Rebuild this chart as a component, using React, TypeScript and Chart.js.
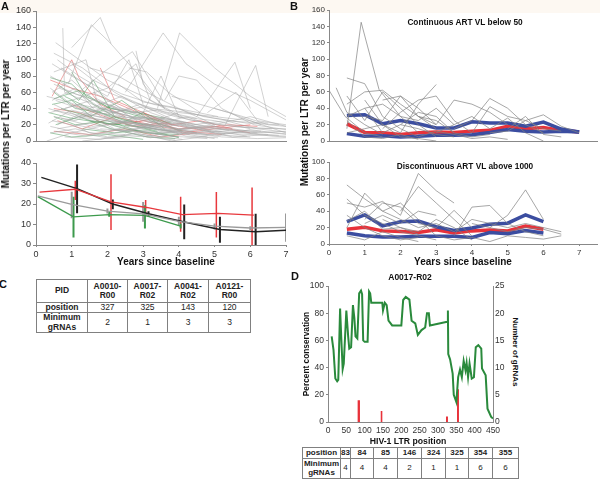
import React, { useEffect, useRef } from "react";
import { Chart, registerables } from "chart.js";

Chart.register(...registerables);

const FONT = "'Liberation Sans', Arial, Helvetica, sans-serif";
type Pt = [number, number];

// ---------------- Panel A (top): individual trajectories ----------------
const aTopGrey: Pt[][] = [
  [[0.55, 121], [1.15, 102], [2.0, 75], [3.0, 55], [4.1, 30]],
  [[0.75, 139], [0.8, 60], [1.6, 45], [2.5, 30]],
  [[0.9, 70], [1.55, 143], [2.05, 122], [2.9, 80], [3.6, 40]],
  [[1.0, 115], [1.8, 152], [2.1, 120]],
  [[0.5, 108], [1.3, 90], [2.2, 60], [3.2, 35], [4.2, 20]],
  [[0.4, 80], [1.2, 60], [1.9, 85], [2.7, 110], [3.55, 50]],
  [[2.8, 111], [3.0, 70], [3.6, 40]],
  [[2.5, 60], [3.56, 133], [4.2, 95], [5.0, 70], [6.0, 50], [7.0, 26]],
  [[3.4, 40], [4.02, 133], [5.0, 90], [6.0, 55], [7.0, 30]],
  [[4.5, 30], [5.57, 97], [6.0, 40]],
  [[5.3, 20], [6.15, 93], [6.5, 30]],
  [[3.6, 50], [4.0, 80], [4.5, 75], [5.2, 40], [6.1, 20], [7.0, 14]],
  [[0.45, 60], [1.0, 75], [1.9, 40], [3.0, 25], [4.0, 15], [5.0, 10]],
  [[0.35, 40], [1.1, 30], [2.0, 25], [3.1, 20], [4.0, 12]],
  [[0.5, 30], [1.1, 25], [2.1, 45], [3.0, 20], [4.1, 10], [5.0, 8], [6.0, 5]],
  [[0.6, 20], [1.3, 35], [2.2, 15], [3.2, 10], [4.0, 5]],
  [[0.4, 10], [1.1, 15], [2.0, 5], [3.0, 8], [4.1, 2]],
  [[0.3, 0], [1.0, 10], [2.0, 20], [3.0, 30], [4.0, 25], [5.0, 15], [6.0, 10], [7.0, 12]],
  [[1.0, 50], [2.0, 65], [2.8, 95], [3.2, 50], [4.0, 30]],
  [[1.5, 90], [2.3, 80], [3.1, 60], [4.0, 40], [5.0, 20]],
  [[2.0, 40], [3.0, 35], [3.5, 80], [4.0, 30], [5.0, 25], [6.0, 15]],
  [[0.7, 90], [1.4, 70], [2.0, 55], [2.6, 100], [3.0, 45]],
  [[3.0, 20], [4.0, 35], [5.0, 30], [6.0, 25], [7.0, 10]],
  [[4.0, 15], [5.0, 20], [6.0, 30], [7.0, 18]],
  [[2.5, 10], [3.5, 25], [4.5, 15], [5.5, 5], [6.5, 8]],
  [[0.8, 5], [1.8, 2], [2.8, 10], [3.8, 0], [4.8, 6]],
  [[1.2, 45], [2.0, 30], [3.0, 15], [4.0, 20], [5.0, 10], [6.0, 8], [7.0, 6]],
  [[0.55, 50], [1.2, 40], [2.2, 35], [3.2, 25], [4.2, 10], [5.2, 12]],
  [[1.9, 30], [2.9, 45], [3.9, 25], [4.9, 12]],
  [[2.2, 25], [3.2, 18], [4.2, 30], [5.2, 15], [6.2, 10]],
  [[4.8, 35], [5.6, 60], [6.2, 25], [7.0, 20]],
  [[0.45, 25], [1.0, 20], [1.5, 10], [2.5, 8]],
  [[1.8, 15], [2.8, 12], [3.8, 6], [4.8, 3]],
  [[3.2, 10], [4.2, 12], [5.2, 5], [6.2, 3], [7.0, 4]],
  [[0.5, 85], [1.4, 100], [1.7, 50], [2.5, 35]],
  [[1.3, 0], [2.3, 5], [3.3, 15], [4.3, 8]],
  [[2.6, 90], [3.1, 85], [3.7, 60], [4.6, 35]],
  [[5.0, 40], [5.8, 30], [6.5, 20], [7.0, 18]],
  [[3.8, 55], [4.6, 45], [5.4, 35], [6.3, 20]],
  [[0.65, 65], [1.3, 55], [2.2, 30], [3.0, 28], [4.0, 18]],
  [[0.4, 35], [1.2, 45], [2.0, 38], [2.8, 22], [3.6, 18], [4.5, 10]],
  [[0.6, 15], [1.5, 22], [2.4, 12], [3.3, 18], [4.2, 6], [5.1, 4]],
  [[1.1, 20], [2.0, 12], [3.0, 22], [4.0, 14], [5.0, 18], [6.0, 12], [7.0, 9]],
  [[0.5, 45], [1.3, 28], [2.1, 20], [3.0, 12], [3.9, 10]],
  [[2.0, 8], [3.0, 18], [4.0, 10], [5.0, 6], [6.0, 14], [7.0, 8]],
  [[0.7, 28], [1.6, 18], [2.6, 24], [3.5, 12], [4.4, 16], [5.3, 9]],
  [[1.6, 60], [2.4, 40], [3.3, 30], [4.3, 22], [5.3, 14], [6.3, 12]],
  [[0.45, 95], [1.0, 80], [1.6, 65], [2.3, 42], [3.0, 30]],
  [[3.5, 30], [4.4, 20], [5.3, 25], [6.2, 15], [7.0, 11]],
  [[0.3, 55], [0.9, 48], [1.7, 35], [2.7, 28], [3.7, 20]],
  [[0.5, 70], [1.1, 58], [1.8, 48], [2.6, 36], [3.4, 24], [4.3, 16]],
  [[0.35, 22], [1.0, 38], [1.9, 28], [2.9, 16], [3.9, 22], [4.9, 14], [5.9, 6]],
  [[0.8, 40], [1.7, 52], [2.5, 34], [3.4, 38], [4.3, 26], [5.2, 20], [6.1, 16], [7.0, 15]],
  [[1.2, 30], [2.1, 35], [3.0, 42], [3.9, 30], [4.8, 22], [5.7, 17], [6.6, 15]],
  [[0.55, 12], [1.4, 6], [2.3, 14], [3.2, 4], [4.1, 9], [5.0, 3]],
  [[0.4, 65], [1.0, 45], [1.5, 32], [2.3, 26], [3.2, 16], [4.1, 8]],
  [[1.5, 40], [2.4, 55], [3.2, 40], [4.1, 36], [5.0, 28], [5.9, 22], [6.8, 20]],
  [[0.6, 100], [1.2, 80], [1.9, 62], [2.7, 48], [3.6, 36], [4.5, 28]],
  [[2.3, 70], [3.0, 48], [3.8, 42], [4.7, 30], [5.6, 24], [6.5, 22]],
  [[0.5, 38], [1.4, 30], [2.3, 22], [3.2, 30], [4.1, 20], [5.0, 12], [5.9, 10], [6.8, 7]],
  [[0.9, 25], [1.8, 40], [2.7, 30], [3.6, 26], [4.5, 18], [5.4, 13]],
  [[0.45, 50], [1.1, 65], [1.8, 30], [2.6, 20], [3.5, 14], [4.4, 12]],
  [[3.0, 5], [3.9, 12], [4.8, 8], [5.7, 11], [6.6, 6], [7.0, 5]],
  [[1.0, 95], [1.6, 75], [2.4, 58], [3.3, 45], [4.2, 38], [5.1, 30]],
  [[0.4, 18], [1.2, 10], [2.1, 3], [3.0, 6], [3.9, 1]],
];
const aTopGreen: Pt[][] = [
  [[0.4, 78], [1.0, 70], [1.6, 45], [2.2, 30], [3.0, 20]],
  [[0.5, 60], [1.1, 40], [1.8, 35], [2.6, 20], [3.4, 12]],
  [[0.45, 45], [1.0, 50], [1.7, 25], [2.5, 15], [3.5, 8], [4.0, 5]],
  [[0.6, 70], [1.2, 50], [1.6, 75], [2.2, 30]],
  [[0.5, 30], [1.1, 20], [2.0, 25], [3.0, 10], [4.0, 8]],
  [[0.55, 20], [1.2, 30], [2.1, 15], [3.1, 5], [3.9, 3]],
  [[1.0, 85], [1.4, 55], [2.1, 40], [2.8, 35], [3.6, 28]],
  [[0.4, 10], [1.0, 5], [2.0, 8], [3.0, 2]],
  [[1.5, 25], [2.3, 20], [3.0, 35], [3.6, 15]],
  [[0.7, 40], [1.5, 30], [2.4, 50], [3.2, 25], [4.1, 12]],
  [[0.35, 35], [1.0, 28], [1.9, 22], [2.8, 18], [3.8, 12]],
  [[0.8, 55], [1.6, 38], [2.5, 25], [3.3, 18]],
  [[0.5, 52], [1.2, 62], [2.0, 42], [2.9, 30], [3.8, 22]],
  [[1.3, 15], [2.2, 10], [3.1, 14], [4.0, 4]],
];
const aTopRed: Pt[][] = [
  [[0.45, 55], [1.0, 100], [1.2, 78], [1.8, 45], [2.5, 30]],
  [[0.4, 75], [1.0, 65], [1.8, 55], [2.6, 40], [3.4, 25]],
  [[0.5, 40], [1.2, 35], [2.0, 20], [3.0, 25], [4.0, 15], [5.0, 18], [6.0, 10]],
  [[0.6, 25], [1.3, 15], [2.2, 30], [3.2, 20], [4.2, 12], [5.2, 8]],
  [[1.8, 90], [2.2, 50], [3.0, 35], [3.8, 20]],
  [[2.5, 20], [3.3, 28], [4.1, 10], [5.0, 15], [6.0, 20]],
  [[0.5, 12], [1.5, 8], [2.5, 15], [3.5, 5], [4.5, 10]],
  [[3.0, 35], [3.8, 20], [4.6, 25], [5.5, 15]],
  [[1.0, 45], [1.8, 32], [2.7, 18], [3.6, 22], [4.5, 14], [5.4, 20], [6.2, 18]],
];

// ---------------- Panel A (bottom): group means with error bars ----------------
const aBlackX = [0.15, 1.15, 2.15, 3.15, 4.15, 5.15, 6.15, 7.0];
const aBlackY = [33, 27.5, 20, 15.2, 11.2, 7.6, 6.5, 7.2];
const aBlackErrX = [1.15, 2.15, 3.15, 4.15, 5.15, 6.15];
const aBlackErrLo = [15.5, 17.5, 13.8, 2.8, 1.1, 0];
const aBlackErrHi = [39.3, 22.2, 16.5, 19.8, 13.8, 15.3];

const aRedX = [0.1, 1.1, 2.1, 3.1, 4.1, 5.1, 6.1];
const aRedY = [25.8, 27.2, 21, 18.3, 14.8, 15.4, 14.6];
const aRedErrX = [1.1, 2.1, 3.07, 4.05, 5.05, 6.05];
const aRedErrLo = [21.9, 7.3, 13.8, 6.5, 3.7, 0];
const aRedErrHi = [31.3, 34.5, 21.9, 23.5, 25.9, 28];

const aGreyX = [0.05, 1.0, 2.0, 3.0, 4.0, 5.0, 6.0, 7.0];
const aGreyY = [24, 19.8, 16.5, 15.2, 11.5, 9.2, 8.3, 8.6];
const aGreyErrX = [1.0, 2.0, 3.0, 4.0, 5.0, 6.0, 7.0];
const aGreyErrLo = [13, 15.4, 11.3, 9.7, 7.6, 7.3, 1.6];
const aGreyErrHi = [26, 17.8, 21, 13.8, 10.5, 9.2, 15.4];

const aGreenX = [0.05, 1.05, 2.05, 3.05, 4.05];
const aGreenY = [23.6, 13.7, 14.8, 14.5, 9.2];
const aGreenErrX = [1.05, 2.05, 3.05, 4.05];
const aGreenErrLo = [3.7, 13.8, 8.1, 8.1];
const aGreenErrHi = [23.5, 16.2, 19.4, 10.5];

// ---------------- Panel B ----------------
const bTopYears = [0.5, 1, 1.5, 2, 2.5, 3, 3.5, 4, 4.5, 5, 5.5, 6, 6.5, 7];
const bTopUpper = [31, 32, 21, 25, 21, 16, 16, 23.5, 22, 22, 18, 23, 14.6, 11];
const bTopMean = [21, 10.5, 10, 8, 10, 11, 10.5, 12, 13, 18, 15, 16.5, 13, 11];
const bTopLower = [9, 5.7, 6.5, 5, 5.7, 7, 7, 7.7, 10.5, 14, 12, 11, 12, 11];
const bTopGrey: Pt[][] = [
  [[0.5, 15], [0.9, 145], [1.4, 63], [2.0, 30], [2.5, 10]],
  [[0, 62], [0.45, 30], [1.0, 10], [1.5, 5]],
  [[0.2, 65], [0.5, 35], [1.0, 20], [1.5, 8]],
  [[0.5, 77], [1.0, 70], [1.5, 30], [2.0, 15], [2.5, 5]],
  [[0.5, 45], [1.0, 60], [1.5, 62], [2.0, 45], [2.5, 30], [3.0, 15]],
  [[0.5, 55], [1.0, 25], [1.5, 60], [2.0, 40], [2.5, 20], [3.0, 5]],
  [[1.0, 50], [1.5, 20], [2.0, 10], [2.5, 45], [3.0, 69]],
  [[1.5, 15], [2.0, 35], [2.5, 50], [3.0, 55], [3.5, 25], [4.0, 10]],
  [[2.5, 30], [3.0, 20], [3.5, 50], [4.0, 45], [4.5, 35], [5.0, 20]],
  [[3.5, 15], [4.0, 25], [4.5, 52], [5.0, 40], [5.5, 20], [6.0, 10]],
  [[4.0, 10], [4.5, 42], [5.0, 30], [5.5, 25], [6.0, 32], [6.5, 18], [7.0, 10]],
  [[0.5, 25], [1.0, 5], [1.5, 3], [2.0, 8], [2.5, 2]],
  [[0.5, 10], [1.0, 15], [1.5, 20], [2.0, 5], [2.5, 3], [3.0, 0]],
  [[1.0, 40], [1.5, 45], [2.0, 30], [2.5, 25], [3.0, 40], [3.5, 20]],
  [[2.0, 20], [2.5, 35], [3.0, 30], [3.5, 10], [4.0, 5], [4.5, 8]],
  [[3.0, 10], [3.5, 20], [4.0, 30], [4.5, 15], [5.0, 28], [5.5, 10], [6.0, 0]],
  [[4.5, 10], [5.0, 12], [5.5, 25], [6.0, 15], [6.5, 12]],
  [[1.5, 50], [2.0, 55], [2.5, 30], [3.0, 25], [3.5, 10]],
  [[0.5, 30], [1.0, 40], [1.5, 10], [2.0, 20], [2.5, 15], [3.0, 8], [3.5, 5]],
  [[2.5, 5], [3.0, 12], [3.5, 8], [4.0, 3], [4.5, 5], [5.0, 2]],
  [[5.0, 15], [5.5, 30], [6.0, 8], [6.5, 5]],
  [[1.0, 30], [1.5, 25], [2.0, 55], [2.5, 40], [3.0, 20]],
];
const bBotYears = [0.5, 1, 1.5, 2, 2.5, 3, 3.5, 4, 4.5, 5, 5.5, 6];
const bBotUpper = [27.4, 35.5, 22, 27, 28, 21, 16.5, 19.5, 24, 25.4, 35.5, 27.4];
const bBotMean = [18, 20.5, 16, 15.3, 14, 17.3, 13.3, 16, 17, 16, 22, 18];
const bBotLower = [13.3, 10, 8.5, 8.5, 9.3, 9.3, 9.3, 8, 14, 12.5, 16.5, 13.3];
const bBotGrey: Pt[][] = [
  [[0.5, 72], [1.0, 55], [1.5, 40], [2.0, 30], [2.5, 20]],
  [[0.5, 20], [1.0, 62], [1.5, 40], [2.0, 50], [2.5, 30], [3.0, 10]],
  [[0.5, 50], [1.0, 45], [1.5, 52], [2.0, 35], [2.5, 86], [3.0, 65], [3.5, 50]],
  [[2.0, 40], [2.5, 70], [3.0, 50], [3.5, 30], [4.0, 10]],
  [[0.5, 35], [1.0, 20], [1.5, 10], [2.0, 5], [2.5, 8]],
  [[1.0, 30], [1.5, 50], [2.0, 45], [2.5, 25], [3.0, 20], [3.5, 41], [4.0, 20]],
  [[3.5, 10], [4.0, 45], [4.5, 47], [5.0, 25], [5.5, 15], [6.0, 10]],
  [[4.5, 20], [5.0, 35], [5.5, 66], [6.0, 30]],
  [[0.5, 55], [1.0, 35], [1.5, 25], [2.0, 15], [2.5, 10], [3.0, 5]],
  [[1.5, 30], [2.0, 20], [2.5, 15], [3.0, 30], [3.5, 20], [4.0, 5]],
  [[2.5, 20], [3.0, 25], [3.5, 15], [4.0, 30], [4.5, 25], [5.0, 20], [5.5, 25], [6.0, 20], [6.5, 15]],
  [[0.5, 10], [1.0, 5], [1.5, 15], [2.0, 8], [2.5, 3]],
  [[3.0, 10], [3.5, 5], [4.0, 8], [4.5, 3], [5.0, 10], [5.5, 8], [6.0, 6], [6.5, 10]],
  [[1.0, 25], [1.5, 35], [2.0, 25], [2.5, 40], [3.0, 35]],
  [[4.0, 25], [4.5, 20], [5.0, 15], [5.5, 20], [6.0, 18], [6.5, 12]],
  [[0.5, 28], [1.0, 40], [1.5, 18], [2.0, 20], [2.5, 12]],
];

// ---------------- Panel C table ----------------
const cPids = ["A0010-\nR00", "A0017-\nR02", "A0041-\nR02", "A0121-\nR00"];
const cPositions = [327, 325, 143, 120];
const cMinGuides = [2, 1, 3, 3];

// ---------------- Panel D ----------------
const dPositions = [10, 15, 20, 25, 28, 33, 36, 40, 43, 50, 55, 58, 63, 68, 72, 75, 80, 85, 90, 93, 96, 100, 108, 112, 115, 118, 148, 150, 155, 160, 165, 175, 200, 205, 212, 222, 228, 238, 245, 255, 265, 270, 275, 278, 325, 327, 328, 333, 340, 343, 350, 355, 360, 365, 370, 375, 378, 382, 386, 392, 398, 403, 410, 418, 420, 430, 435, 445, 450];
const dConservation = [63, 53, 32, 30, 31, 83.5, 63, 39, 43, 82, 63, 54, 55, 86, 76, 63, 61.4, 94.6, 96.6, 94, 60, 59, 59, 96, 94.6, 87.7, 87.7, 82, 87.7, 86, 74.5, 71, 71, 89.7, 92, 90, 74.5, 72.5, 64, 67.6, 69.5, 80, 80, 71, 73.7, 82, 50, 46, 35.6, 20, 14.7, 33, 38.6, 33, 45, 38, 43.5, 33, 43, 32, 33, 55, 56.5, 54, 39.3, 34.4, 9.8, 3.7, 2.5];
const dGuidePositions = [83, 84, 85, 146, 324, 325, 354, 355];
const dMinGuides = [4, 4, 4, 2, 1, 1, 6, 6];

// ---------------- helpers ----------------
const lineSet = (pts: Pt[], color: string, width: number) => ({
  data: pts.map(([x, y]) => ({ x, y })),
  borderColor: color,
  borderWidth: width,
  pointRadius: 0,
  fill: false,
  tension: 0,
});
const seriesSet = (xs: number[], ys: number[], color: string, width: number, extra: any = {}) => ({
  data: xs.map((x, i) => ({ x, y: ys[i] })),
  borderColor: color,
  borderWidth: width,
  pointRadius: 0,
  fill: false,
  tension: 0,
  ...extra,
});
const errSet = (xs: number[], lo: number[], hi: number[], color: string, width: number, extra: any = {}) => ({
  data: xs.flatMap((x, i) => [{ x, y: lo[i] }, { x, y: hi[i] }, { x, y: null }]),
  borderColor: color,
  borderWidth: width,
  pointRadius: 0,
  fill: false,
  spanGaps: false,
  tension: 0,
  ...extra,
});

function xAxis(min: number, max: number, step: number, o: { labels: boolean; size?: number; tick?: number; pad?: number; height: number }) {
  return {
    type: "linear",
    position: "bottom",
    min,
    max,
    ticks: {
      display: o.labels,
      stepSize: step,
      includeBounds: false,
      autoSkip: false,
      maxRotation: 0,
      color: "#333",
      font: { family: FONT, size: o.size ?? 9 },
      padding: o.pad ?? 2,
    },
    grid: { display: true, drawOnChartArea: false, drawTicks: (o.tick ?? 0) > 0, tickLength: o.tick ?? 0, color: "#888" },
    border: { display: true, color: "#888", width: 1 },
    afterFit: (s: any) => {
      s.height = o.height;
      s.paddingLeft = 0;
      s.paddingRight = 0;
    },
  };
}
function yAxis(min: number, max: number, step: number, o: { width: number; size?: number; tick?: number; pad?: number; position?: string }) {
  return {
    type: "linear",
    position: o.position ?? "left",
    min,
    max,
    ticks: {
      stepSize: step,
      autoSkip: false,
      color: "#333",
      font: { family: FONT, size: o.size ?? 9 },
      padding: o.pad ?? 2,
    },
    grid: { display: true, drawOnChartArea: false, drawTicks: (o.tick ?? 0) > 0, tickLength: o.tick ?? 0, color: "#888" },
    border: { display: true, color: "#888", width: 1 },
    afterFit: (s: any) => {
      s.width = o.width;
      s.paddingTop = 0;
      s.paddingBottom = 0;
    },
  };
}
function baseConfig(datasets: any[], scales: any, padding: any) {
  return {
    type: "line",
    data: { datasets },
    options: {
      animation: false,
      responsive: false,
      devicePixelRatio: 1,
      events: [],
      layout: { padding },
      plugins: { legend: { display: false }, tooltip: { enabled: false }, title: { display: false } },
      elements: { point: { radius: 0 }, line: { tension: 0 } },
      scales,
    },
  };
}

// ---------------- chart configs ----------------
const GREY_A = "rgba(165,165,165,0.5)";
const GREEN_A = "rgba(70,150,85,0.5)";
const RED_A = "rgba(228,80,80,0.5)";

const makeATop = () =>
  baseConfig(
    [
      ...aTopGrey.map((p) => lineSet(p, GREY_A, 1)),
      ...aTopGreen.map((p) => lineSet(p, GREEN_A, 1)),
      ...aTopRed.map((p) => lineSet(p, RED_A, 1)),
    ],
    {
      x: xAxis(0, 7, 1, { labels: false, height: 4 }),
      y: yAxis(0, 160, 20, { width: 36, size: 9, tick: 3, pad: 2 }),
    },
    { top: 11, right: 6, bottom: 0, left: 0 }
  );

const makeABottom = () =>
  baseConfig(
    [
      seriesSet(aGreyX, aGreyY, "#9a9a9a", 1.3),
      seriesSet(aGreenX, aGreenY, "#3c9a4c", 1.3),
      seriesSet(aRedX, aRedY, "#e8383d", 1.3),
      seriesSet(aBlackX, aBlackY, "#222", 1.5),
      errSet(aGreyErrX, aGreyErrLo, aGreyErrHi, "#9a9a9a", 2),
      errSet(aGreenErrX, aGreenErrLo, aGreenErrHi, "#3c9a4c", 2),
      errSet(aRedErrX, aRedErrLo, aRedErrHi, "#e8383d", 1.5),
      errSet(aBlackErrX, aBlackErrLo, aBlackErrHi, "#222", 2),
    ],
    {
      x: xAxis(0, 7, 1, { labels: true, size: 9, tick: 2, pad: 2, height: 25 }),
      y: yAxis(0, 40, 10, { width: 36, size: 9, tick: 3, pad: 2 }),
    },
    { top: 13, right: 6, bottom: 0, left: 0 }
  );

const BLUE = "#3b4da0";
const RED_B = "#e8323a";
const GREY_B = "rgba(130,130,130,0.7)";

const makeBTop = () =>
  baseConfig(
    [
      ...bTopGrey.map((p) => lineSet(p, GREY_B, 1)),
      seriesSet(bTopYears, bTopUpper, BLUE, 3.5),
      seriesSet(bTopYears, bTopLower, BLUE, 3.5),
      seriesSet(bTopYears, bTopMean, RED_B, 3.5),
    ],
    {
      x: xAxis(0, 7.5, 1, { labels: false, height: 4 }),
      y: yAxis(0, 160, 20, { width: 36, size: 8, tick: 2, pad: 2 }),
    },
    { top: 10, right: 3, bottom: 0, left: 0 }
  );

const makeBBottom = () =>
  baseConfig(
    [
      ...bBotGrey.map((p) => lineSet(p, GREY_B, 1)),
      seriesSet(bBotYears, bBotUpper, BLUE, 3.5),
      seriesSet(bBotYears, bBotLower, BLUE, 3.5),
      seriesSet(bBotYears, bBotMean, RED_B, 3.5),
    ],
    {
      x: xAxis(0, 7.5, 1, { labels: true, size: 8, tick: 2, pad: 2, height: 26 }),
      y: yAxis(0, 100, 20, { width: 36, size: 8, tick: 2, pad: 2 }),
    },
    { top: 12, right: 3, bottom: 0, left: 0 }
  );

const makeD = () =>
  baseConfig(
    [
      seriesSet(dPositions, dConservation, "#2a8a3c", 2, { yAxisID: "y" }),
      errSet(
        dGuidePositions,
        dGuidePositions.map(() => 0),
        dMinGuides,
        "#e8323a",
        1.6,
        { yAxisID: "y2" }
      ),
    ],
    {
      x: xAxis(0, 450, 50, { labels: true, size: 8.5, tick: 0, pad: 4, height: 19 }),
      y: yAxis(0, 100, 20, { width: 33, size: 8.5, tick: 2, pad: 2 }),
      y2: yAxis(0, 25, 5, { width: 17, size: 8.5, tick: 0, pad: 2, position: "right" }),
    },
    { top: 10, right: 0, bottom: 0, left: 0 }
  );

// ---------------- layout constants ----------------
const cColEdges = [36, 87, 127, 167, 208, 250];
const cRowEdges = [279, 302, 312, 332];
const dColEdges = [302, 340, 350, 373, 397, 421, 445, 468, 492, 518];
const dRowEdges = [447, 458, 478];

// ---------------- components ----------------
function ChartBox({ left, top, width, height, make }: { left: number; top: number; width: number; height: number; make: () => any }) {
  const ref = useRef<HTMLCanvasElement>(null);
  useEffect(() => {
    const chart = new Chart(ref.current as HTMLCanvasElement, make());
    return () => chart.destroy();
  }, []);
  return (
    <canvas
      ref={ref}
      width={width}
      height={height}
      style={{ position: "absolute", left, top, width, height }}
    />
  );
}

function Label({ x, y, text, size, bold = true, rotate = 0 }: { x: number; y: number; text: string; size: number; bold?: boolean; rotate?: number }) {
  return (
    <div
      style={{
        position: "absolute",
        left: x,
        top: y,
        transform: `translate(-50%, -50%) rotate(${rotate}deg)`,
        fontSize: size,
        fontWeight: bold ? 700 : 400,
        whiteSpace: "nowrap",
        lineHeight: 1,
        color: "#111",
        fontFamily: FONT,
        zIndex: 2,
      }}
    >
      {text}
    </div>
  );
}

function Table({ cols, rows, cells, size }: { cols: number[]; rows: number[]; cells: { text: string; bold: boolean }[][]; size: number }) {
  const out: any[] = [];
  cells.forEach((row, r) =>
    row.forEach((cell, c) => {
      out.push(
        <div
          key={`${r}-${c}`}
          style={{
            position: "absolute",
            left: cols[c],
            top: rows[r],
            width: cols[c + 1] - cols[c] + 1,
            height: rows[r + 1] - rows[r] + 1,
            boxSizing: "border-box",
            border: "1px solid #808080",
            display: "flex",
            alignItems: "center",
            justifyContent: "center",
            textAlign: "center",
            whiteSpace: "pre-line",
            fontSize: size,
            fontWeight: cell.bold ? 700 : 400,
            lineHeight: 1.1,
            fontFamily: FONT,
            color: "#222",
          }}
        >
          {cell.text}
        </div>
      );
    })
  );
  return <>{out}</>;
}

export default function App() {
  const cCells = [
    [{ text: "PID", bold: true }, ...cPids.map((t) => ({ text: t, bold: true }))],
    [{ text: "position", bold: true }, ...cPositions.map((v) => ({ text: String(v), bold: false }))],
    [{ text: "Minimum\ngRNAs", bold: true }, ...cMinGuides.map((v) => ({ text: String(v), bold: false }))],
  ];
  const dCells = [
    [{ text: "position", bold: true }, ...dGuidePositions.map((v) => ({ text: String(v), bold: true }))],
    [{ text: "Minimum\ngRNAs", bold: true }, ...dMinGuides.map((v) => ({ text: String(v), bold: false }))],
  ];
  return (
    <div
      style={{
        position: "fixed",
        left: 0,
        top: 0,
        width: 600,
        height: 480,
        background: "#fff",
        overflow: "hidden",
        fontFamily: FONT,
      }}
    >
      <div style={{ position: "absolute", left: 0, top: 0, width: 600, height: 13, background: "#fdf8f2" }} />

      <ChartBox left={0} top={0} width={292} height={145} make={makeATop} />
      <ChartBox left={0} top={150} width={292} height={120} make={makeABottom} />
      <ChartBox left={293} top={0} width={307} height={145} make={makeBTop} />
      <ChartBox left={293} top={150} width={307} height={120} make={makeBBottom} />
      <ChartBox left={295} top={276} width={215} height={165} make={makeD} />

      <Label x={5} y={6} text="A" size={11} />
      <Label x={294} y={6} text="B" size={11} />
      <Label x={3} y={284} text="C" size={11} />
      <Label x={295} y={276} text="D" size={11} />

      <Label x={6} y={124} text="Mutations per LTR per year" size={10} rotate={-90} />
      <Label x={305} y={122} text="Mutations per LTR per year" size={10} rotate={-90} />
      <Label x={166} y={262} text="Years since baseline" size={10} />
      <Label x={463} y={262} text="Years since baseline" size={10} />
      <Label x={465} y={22} text="Continuous ART VL below 50" size={8.3} />
      <Label x={465} y={166} text="Discontinuous ART VL above 1000" size={8.3} />

      <Label x={410} y={277} text="A0017-R02" size={8.5} />
      <Label x={306} y={354} text="Percent conservation" size={8.3} rotate={-90} />
      <Label x={515} y={352} text="Number of gRNAs" size={8} rotate={90} />
      <Label x={408} y={441} text="HIV-1 LTR position" size={8.7} />

      <Table cols={cColEdges} rows={cRowEdges} cells={cCells} size={8.5} />
      <Table cols={dColEdges} rows={dRowEdges} cells={dCells} size={8} />
    </div>
  );
}
